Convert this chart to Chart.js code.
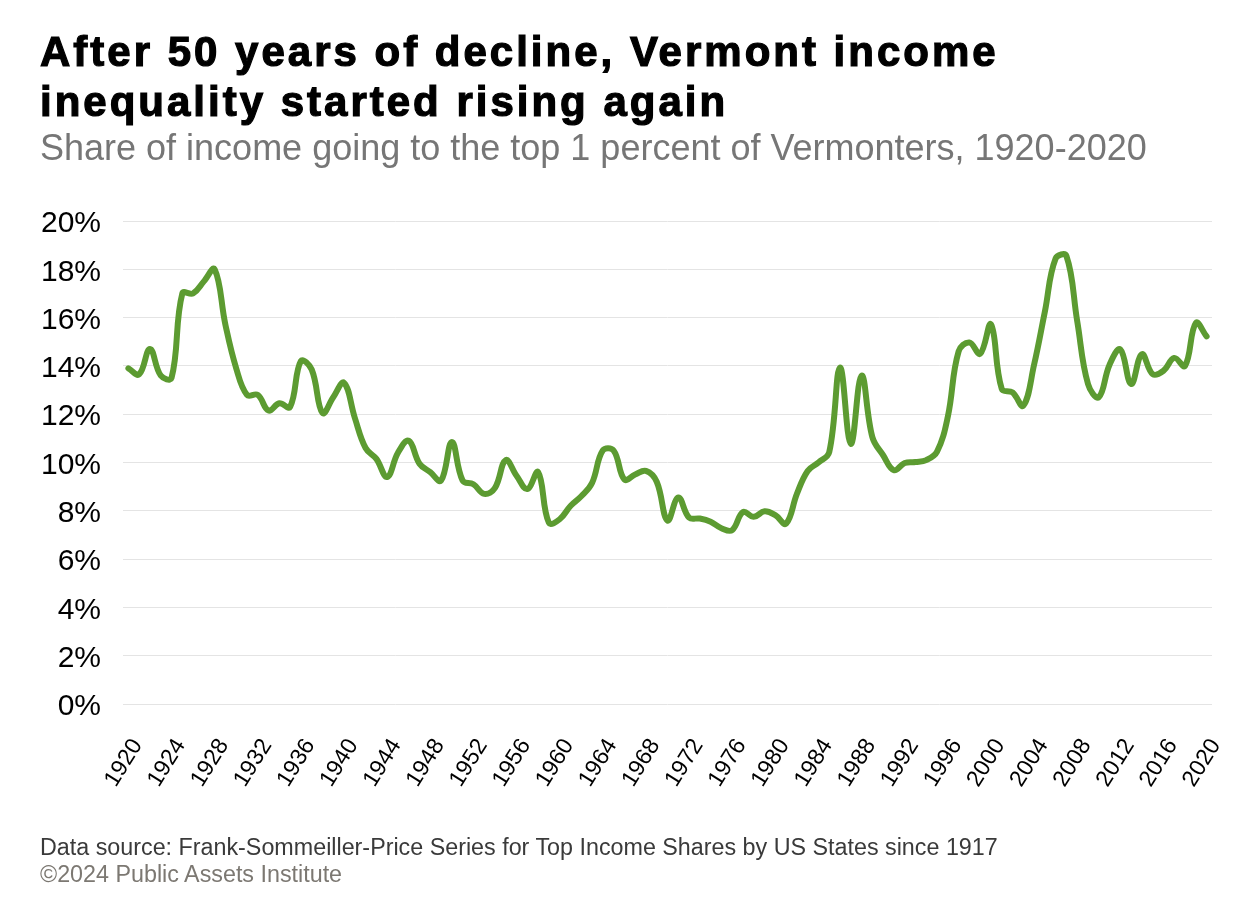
<!DOCTYPE html>
<html>
<head>
<meta charset="utf-8">
<script src="https://cdn.jsdelivr.net/npm/chart.js@4"></script>
<style>
  body { margin: 0; background: #fff; font-family: "Liberation Sans", Arial, sans-serif; }
  #wrap { position: relative; width: 1260px; height: 917px; overflow: hidden; }
  #title { position: absolute; left: 40px; top: 27px; font-size: 42px; font-weight: bold; line-height: 50px; color: #000; letter-spacing: 3px; -webkit-text-stroke: 1.2px #000; white-space: nowrap; }
  #subtitle { position: absolute; left: 40px; top: 127px; font-size: 36px; color: #767676; white-space: nowrap; }
  #source { position: absolute; left: 40px; top: 834px; font-size: 23.3px; color: #3a3a3a; white-space: nowrap; }
  #copy { position: absolute; left: 40px; top: 861px; font-size: 23.3px; color: #7c7872; white-space: nowrap; }
  #chartBox { position: absolute; left: 0; top: 0; width: 1260px; height: 917px; }
</style>
</head>
<body>
<div id="wrap">
  <div id="chartBox"><canvas id="shareChart"></canvas></div>
  <div id="title">After 50 years of decline, Vermont income<br>inequality started rising again</div>
  <div id="subtitle">Share of income going to the top 1 percent of Vermonters, 1920-2020</div>
  <div id="source">Data source: Frank-Sommeiller-Price Series for Top Income Shares by US States since 1917</div>
  <div id="copy">©2024 Public Assets Institute</div>
</div>
<script>
// years 1920-2020
const years = [];
for (let y = 1920; y <= 2020; y++) years.push(String(y));

// top 1% share, percent
const share1920s = [13.9, 13.65, 14.7, 13.6, 13.5, 17.0, 17.0, 17.5, 18.0, 15.7];
const share1930s = [13.9, 12.8, 12.8, 12.15, 12.45, 12.3, 14.2, 13.85, 12.05, 12.7];
const share1940s = [13.3, 11.85, 10.6, 10.15, 9.4, 10.4, 10.9, 9.95, 9.6, 9.25];
const share1950s = [10.85, 9.25, 9.1, 8.7, 8.95, 10.1, 9.45, 8.9, 9.6, 7.5];
const share1960s = [7.65, 8.2, 8.6, 9.15, 10.5, 10.5, 9.3, 9.5, 9.65, 9.2];
const share1970s = [7.6, 8.55, 7.72, 7.68, 7.55, 7.28, 7.2, 7.95, 7.75, 7.98];
const share1980s = [7.82, 7.47, 8.7, 9.65, 10.0, 10.43, 13.93, 10.77, 13.6, 11.05];
const share1990s = [10.3, 9.68, 9.98, 10.02, 10.1, 10.45, 11.9, 14.6, 14.97, 14.5];
const share2000s = [15.72, 13.05, 12.9, 12.35, 14.05, 16.25, 18.45, 18.55, 15.85, 13.25];
const share2010s = [12.7, 14.05, 14.68, 13.25, 14.48, 13.66, 13.8, 14.33, 14.0, 15.78];
const share2020s = [15.22];

const shareValues = [].concat(share1920s, share1930s, share1940s, share1950s, share1960s,
  share1970s, share1980s, share1990s, share2000s, share2010s, share2020s);

const yTicks = [0, 2, 4, 6, 8, 10, 12, 14, 16, 18, 20];

document.addEventListener('DOMContentLoaded', function() {
  const ctx = document.getElementById('shareChart').getContext('2d');
  new Chart(ctx, {
    type: 'line',
    data: {
      labels: years,
      datasets: [{
        label: 'Top 1% share',
        data: shareValues,
        borderColor: '#5c9b31',
        borderWidth: 6,
        pointRadius: 0,
        fill: false,
        tension: 0.4,
        borderCapStyle: 'round',
        borderJoinStyle: 'round'
      }]
    },
    options: {
      responsive: true,
      maintainAspectRatio: false,
      animation: false,
      layout: {
        padding: { top: 221, left: 3, right: 48, bottom: 113 }
      },
      plugins: {
        legend: { display: false },
        tooltip: { enabled: false }
      },
      scales: {
        x: {
          offset: true,
          grid: { display: false },
          border: { display: false },
          afterFit: function(s) { s.height = 100; },
          ticks: {
            autoSkip: false,
            minRotation: 58,
            maxRotation: 58,
            labelOffset: 9,
            padding: 22,
            color: '#000',
            font: { family: 'Liberation Sans', size: 23 },
            callback: function(v, i) {
              const yr = years[i];
              return (Number(yr) - 1920) % 4 === 0 ? yr : '';
            }
          }
        },
        y: {
          min: 0,
          max: 20,
          afterFit: function(s) { s.width = 120; },
          afterBuildTicks: function(s) { s.ticks = yTicks.map(v => ({ value: v })); },
          grid: { color: '#e4e4e4', lineWidth: 1, drawTicks: false },
          border: { display: false },
          ticks: {
            padding: 22,
            labelOffset: 3,
            color: '#000',
            font: { family: 'Liberation Sans', size: 30 },
            callback: function(v) { return v + '%'; }
          }
        }
      }
    }
  });
});
</script>
</body>
</html>
